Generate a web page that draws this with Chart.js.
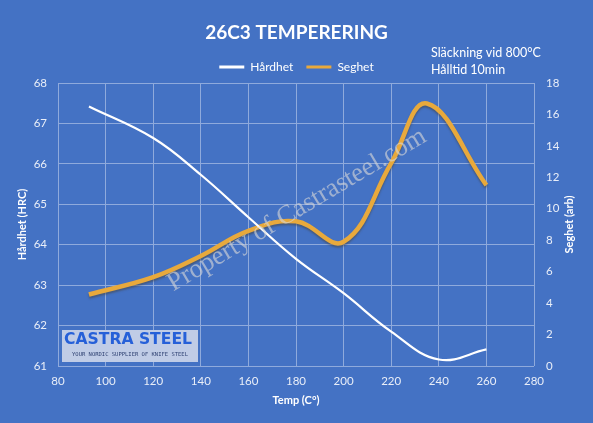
<!DOCTYPE html>
<html>
<head>
<meta charset="utf-8">
<script src="https://cdn.jsdelivr.net/npm/chart.js@4.4.1/dist/chart.umd.min.js"></script>
<style>
  html, body { margin: 0; padding: 0; background: #4472C4; }
  #chart { display: block; }
</style>
</head>
<body>
<canvas id="chart" width="593" height="423"></canvas>
<script>
// Värden (anlöpningstemperatur -> hårdhet / seghet)
const hardTemps = [93, 120, 140, 160, 180, 200, 220, 240, 260];
const hardValues = [67.42, 66.64, 65.73, 64.68, 63.65, 62.8, 61.85, 61.16, 61.41];
const toughTemps = [93, 120, 140, 160, 180, 200, 220, 235, 260];
const toughValues = [4.55, 5.65, 7.0, 8.6, 9.2, 7.9, 12.9, 16.7, 11.5];

// Axlarnas skalsteg
const tempTicks = [80, 100, 120, 140, 160, 180, 200, 220, 240, 260, 280];
const hardTicks = [61, 62, 63, 64, 65, 66, 67, 68];
const toughTicks = [0, 2, 4, 6, 8, 10, 12, 14, 16, 18];

const FONT = 'Lato, "Open Sans", sans-serif';
Chart.defaults.font.family = FONT;
Chart.defaults.color = '#ffffff';

const gridColor = '#8FAADC';
const tickColor = '#E9EEF8';

function toPoints(xs, ys) {
    return xs.map((x, i) => ({ x: x, y: ys[i] }));
}

// skugga under seghetskurvan
const lineShadow = {
    id: 'lineShadow',
    beforeDatasetDraw(chart, args) {
        if (args.index !== 1) return;
        const ctx = chart.ctx;
        ctx.save();
        ctx.shadowColor = 'rgba(70, 70, 70, 0.55)';
        ctx.shadowOffsetX = 0;
        ctx.shadowOffsetY = 2;
        ctx.shadowBlur = 2;
    },
    afterDatasetDraw(chart, args) {
        if (args.index !== 1) return;
        chart.ctx.restore();
    }
};

// texter, vattenstämpel och logga
const extras = {
    id: 'extras',
    afterDatasetsDraw(chart) {
        const ctx = chart.ctx;
        // vattenstämpel
        ctx.save();
        ctx.translate(297, 210);
        ctx.rotate(-30.7 * Math.PI / 180);
        ctx.font = '22px "Liberation Serif", "DejaVu Serif", serif';
        const w = ctx.measureText('Property of Castrasteel.com').width;
        const s = 296 / w;
        ctx.scale(s, s);
        ctx.fillStyle = 'rgba(215, 215, 215, 0.62)';
        ctx.textAlign = 'center';
        ctx.textBaseline = 'middle';
        ctx.fillText('Property of Castrasteel.com', 0, 0);
        ctx.restore();

        // logga
        ctx.save();
        ctx.fillStyle = '#C0CCE6';
        ctx.fillRect(62, 330, 136, 32);
        ctx.font = 'bold 16px "DejaVu Sans", sans-serif';
        const lw = ctx.measureText('CASTRA STEEL').width;
        ctx.translate(128, 340);
        ctx.scale(128 / lw, 1);
        ctx.fillStyle = '#2660D8';
        ctx.textAlign = 'center';
        ctx.textBaseline = 'middle';
        ctx.fillText('CASTRA STEEL', 0, 0);
        ctx.restore();

        ctx.save();
        ctx.font = '5.5px "DejaVu Sans Mono", monospace';
        const sw = ctx.measureText('YOUR NORDIC SUPPLIER OF KNIFE STEEL').width;
        ctx.translate(130, 355);
        ctx.scale(116 / sw, 1);
        ctx.fillStyle = '#2C3F70';
        ctx.textAlign = 'center';
        ctx.textBaseline = 'middle';
        ctx.fillText('YOUR NORDIC SUPPLIER OF KNIFE STEEL', 0, 0);
        ctx.restore();
    },
    afterDraw(chart) {
        const ctx = chart.ctx;
        ctx.save();
        ctx.fillStyle = '#ffffff';
        ctx.font = '12.5px ' + FONT;
        ctx.textBaseline = 'middle';
        ctx.fillText('Släckning vid 800°C', 431, 53);
        ctx.fillText('Hålltid 10min', 431, 70);

        // höger axeltitel, läses nerifrån och upp
        const area = chart.chartArea;
        ctx.translate(569, (area.top + area.bottom) / 2);
        ctx.rotate(-Math.PI / 2);
        ctx.font = 'bold 11px ' + FONT;
        ctx.textAlign = 'center';
        ctx.fillText('Seghet (arb)', 0, 0);
        ctx.restore();
    }
};

const chart = new Chart(document.getElementById('chart'), {
    type: 'line',
    data: {
        datasets: [{
            label: 'Hårdhet',
            data: toPoints(hardTemps, hardValues),
            yAxisID: 'y',
            borderColor: '#ffffff',
            backgroundColor: '#ffffff',
            borderWidth: 2.2,
            pointRadius: 0,
            tension: 0.4,
            fill: false
        }, {
            label: 'Seghet',
            data: toPoints(toughTemps, toughValues),
            yAxisID: 'y2',
            borderColor: '#E8A93C',
            backgroundColor: '#E8A93C',
            borderWidth: 4.5,
            pointRadius: 0,
            tension: 0.4,
            fill: false
        }]
    },
    options: {
        responsive: false,
        animation: false,
        layout: { padding: 0 },
        plugins: {
            title: {
                display: true,
                text: '26C3 TEMPERERING',
                color: '#ffffff',
                font: { size: 19, weight: 'bold' },
                padding: { top: 11, bottom: 4 }
            },
            legend: {
                display: true,
                position: 'top',
                labels: {
                    color: '#ffffff',
                    font: { size: 12 },
                    usePointStyle: true,
                    pointStyle: 'line',
                    pointStyleWidth: 25,
                    padding: 13,
                    generateLabels(c) {
                        return Chart.defaults.plugins.legend.labels.generateLabels(c)
                            .map(l => Object.assign(l, { lineWidth: 3 }));
                    }
                }
            },
            tooltip: { enabled: false }
        },
        scales: {
            x: {
                type: 'linear',
                min: tempTicks[0],
                max: tempTicks[tempTicks.length - 1],
                ticks: {
                    stepSize: tempTicks[1] - tempTicks[0],
                    color: tickColor,
                    font: { size: 11.5 },
                    padding: 8
                },
                grid: { color: gridColor, drawTicks: false },
                border: { display: false },
                title: {
                    display: true,
                    text: 'Temp (C°)',
                    color: '#ffffff',
                    font: { size: 11, weight: 'bold' },
                    padding: { top: 0, bottom: 16 }
                },
                afterFit(scale) { scale.height = 57; }
            },
            y: {
                position: 'left',
                min: hardTicks[0],
                max: hardTicks[hardTicks.length - 1],
                ticks: {
                    stepSize: hardTicks[1] - hardTicks[0],
                    color: tickColor,
                    font: { size: 11.5 },
                    padding: 11
                },
                grid: { color: gridColor, drawTicks: false },
                border: { display: false },
                title: {
                    display: true,
                    text: 'Hårdhet (HRC)',
                    color: '#ffffff',
                    font: { size: 11, weight: 'bold' },
                    padding: { top: 16, bottom: 0 }
                },
                afterFit(scale) {
                    scale.width = 58;
                    scale.paddingTop = 83;
                }
            },
            y2: {
                position: 'right',
                min: toughTicks[0],
                max: toughTicks[toughTicks.length - 1],
                ticks: {
                    stepSize: toughTicks[1] - toughTicks[0],
                    color: tickColor,
                    font: { size: 11.5 },
                    padding: 12
                },
                grid: { display: false, drawTicks: false },
                border: { display: false },
                afterFit(scale) { scale.width = 59; }
            }
        }
    },
    plugins: [lineShadow, extras]
});
</script>
</body>
</html>
